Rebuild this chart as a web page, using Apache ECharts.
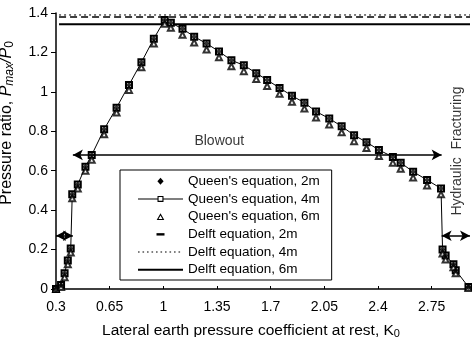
<!DOCTYPE html>
<html>
<head>
<meta charset="utf-8">
<script src="https://cdn.jsdelivr.net/npm/echarts@6/dist/echarts.min.js"></script>
<style>
html,body{margin:0;padding:0;background:#fff;}
#c{width:472px;height:337px;}
</style>
</head>
<body>
<div id="c"></div>
<script>
// ---- data ----
var kValues = [0.3, 0.333, 0.356, 0.377, 0.396, 0.406, 0.442, 0.492, 0.533, 0.614, 0.695, 0.776, 0.857, 0.938, 1.009, 1.049, 1.125, 1.201, 1.282, 1.363, 1.444, 1.525, 1.606, 1.677, 1.758, 1.839, 1.92, 1.996, 2.082, 2.163, 2.244, 2.325, 2.406, 2.497, 2.548, 2.629, 2.72, 2.811, 2.821, 2.841, 2.892, 2.907, 2.99];
var queen2m = [0, 0.02, 0.08, 0.145, 0.205, 0.48, 0.53, 0.62, 0.68, 0.81, 0.92, 1.035, 1.15, 1.27, 1.365, 1.35, 1.32, 1.28, 1.245, 1.205, 1.16, 1.135, 1.095, 1.06, 1.02, 0.98, 0.945, 0.9, 0.865, 0.825, 0.78, 0.745, 0.705, 0.67, 0.64, 0.595, 0.553, 0.51, 0.2, 0.17, 0.125, 0.095, 0.01];
var queen4m = [0, 0.02, 0.08, 0.145, 0.205, 0.48, 0.53, 0.62, 0.68, 0.81, 0.92, 1.035, 1.15, 1.27, 1.365, 1.35, 1.32, 1.28, 1.245, 1.205, 1.16, 1.135, 1.095, 1.06, 1.02, 0.98, 0.945, 0.9, 0.865, 0.825, 0.78, 0.745, 0.705, 0.67, 0.64, 0.595, 0.553, 0.51, 0.2, 0.17, 0.125, 0.095, 0.01];
var queen6m = [0, 0.01, 0.06, 0.125, 0.185, 0.46, 0.51, 0.6, 0.655, 0.785, 0.895, 1.01, 1.125, 1.245, 1.345, 1.325, 1.29, 1.25, 1.215, 1.175, 1.13, 1.105, 1.065, 1.03, 0.99, 0.95, 0.915, 0.87, 0.835, 0.795, 0.75, 0.715, 0.675, 0.64, 0.61, 0.565, 0.525, 0.48, 0.18, 0.15, 0.11, 0.08, 0.005];
var delftK = [0.32, 3.0];
var delft2m = [1.38, 1.38];
var delft4m = [1.39, 1.39];
var delft6m = [1.343, 1.343];
var seriesNames = ["Queen's equation, 2m", "Queen's equation, 4m", "Queen's equation, 6m", "Delft equation, 2m", "Delft equation, 4m", "Delft equation, 6m"];
// region boundaries and annotation arrows
var boundaryK = [0.41, 2.815];
var boundaryTop = 1.43;
var blowoutArrow = [[0.41, 0.68], [2.815, 0.68]];
var leftArrow = [[0.3, 0.27], [0.41, 0.27]];
var rightArrow = [[2.815, 0.27], [3.0, 0.27]];
var annotations = [
  {text: 'Blowout', k: 1.365, p: 0.75, rotate: 0},
  {text: 'Hydraulic  Fracturing', k: 2.915, p: 0.70, rotate: 90}
];
var xMin = 0.3, xMax = 3.0, xStep = 0.35;
var yMin = 0, yMax = 1.4, yStep = 0.2;

function pairs(xs, ys){ return xs.map(function(x,i){ return [x, ys[i]]; }); }

// legend icon shapes (drawn in a 45x8 box)
var BOX = 'path://M0,0M45,8';
var iconDiamond = BOX + 'M22.5,0.6L25.6,4L22.5,7.4L19.4,4Z';
var iconSquare = BOX + 'M0,3.5h19.5v1h-19.5z M25.5,3.5h19.5v1h-19.5z M19.5,1h6v6h-6z M20.6,2.1v3.8h3.8v-3.8z';
var iconTriangle = BOX + 'M22.5,0.6L26.3,7.4L18.7,7.4Z M22.5,2.9L20.5,6.4L24.5,6.4Z';
var iconDash = BOX + 'M18.5,2.8h8v2.4h-8z';
var iconDots = (function(){ var s = BOX; for (var x = 0; x < 45; x += 4.5) s += 'M' + x + ',3.5h1.6v1h-1.6z'; return s; })();
var iconSolid = BOX + 'M0,3h45v2h-45z';

var chart = echarts.init(document.getElementById('c'), null, {renderer:'canvas'});
var FONT = 'Liberation Sans, Arial, sans-serif';
var blk = {color: '#000', opacity: 1, borderWidth: 0};
var option = {
  animation: false,
  backgroundColor: '#fff',
  textStyle: {fontFamily: FONT, color: '#000'},
  grid: {left: 56, right: 2, top: 13, bottom: 48, containLabel: false, outerBoundsMode: 'none'},
  legend: {
    orient: 'vertical', left: 120, top: 170,
    padding: [4, 12, 3, 18],
    itemWidth: 45, itemHeight: 8, itemGap: 3.2,
    borderColor: '#000', borderWidth: 1, backgroundColor: '#fff',
    textStyle: {fontFamily: FONT, fontSize: 13.5, color: '#000', lineHeight: 14.5},
    data: [
      {name: seriesNames[0], icon: iconDiamond, itemStyle: blk},
      {name: seriesNames[1], icon: iconSquare, itemStyle: blk},
      {name: seriesNames[2], icon: iconTriangle, itemStyle: blk},
      {name: seriesNames[3], icon: iconDash, itemStyle: blk},
      {name: seriesNames[4], icon: iconDots, itemStyle: blk},
      {name: seriesNames[5], icon: iconSolid, itemStyle: blk}
    ]
  },
  xAxis: {
    type: 'value', min: xMin, max: xMax, interval: xStep,
    name: 'Lateral earth pressure coefficient at rest, K{s|0}',
    nameLocation: 'middle', nameGap: 33,
    nameTextStyle: {fontFamily: FONT, fontSize: 15.5, color: '#000', padding: [0, 24, 0, 0],
      rich: {s: {fontSize: 11, fontFamily: FONT, verticalAlign: 'bottom', padding: [6, 0, 0, 0]}}},
    axisLine: {show: true, lineStyle: {color: '#000', width: 1.5}},
    axisTick: {show: true, inside: true, length: 3, lineStyle: {color: '#000'}},
    axisLabel: {fontFamily: FONT, fontSize: 14, color: '#000', margin: 11, showMaxLabel: false, hideOverlap: false},
    splitLine: {show: false}
  },
  yAxis: {
    type: 'value', min: yMin, max: yMax, interval: yStep,
    name: 'Pressure ratio, {i|P}{si|max}{i|/P}{s|0}',
    nameLocation: 'middle', nameGap: 40,
    nameTextStyle: {fontFamily: FONT, fontSize: 16, color: '#000', padding: [0, 0, 0, 56],
      rich: {
        i: {fontSize: 16, fontStyle: 'italic', fontFamily: FONT},
        si: {fontSize: 12, fontStyle: 'italic', fontFamily: FONT, padding: [6, 0, 0, 0]},
        s: {fontSize: 12, fontFamily: FONT, padding: [6, 0, 0, 0]}
      }},
    axisLine: {show: true, lineStyle: {color: '#000', width: 1.5}},
    axisTick: {show: true, inside: false, length: 5, lineStyle: {color: '#000'}},
    axisLabel: {fontFamily: FONT, fontSize: 14, color: '#000', margin: 8},
    splitLine: {show: false}
  },
  series: [
    {
      name: seriesNames[3], type: 'line', data: pairs(delftK, delft2m), symbol: 'none', z: 3,
      color: '#000', lineStyle: {color: '#000', width: 1.6, type: [7, 4]}
    },
    {
      name: seriesNames[4], type: 'line', data: pairs(delftK, delft4m), symbol: 'none', z: 3,
      color: '#000', lineStyle: {color: '#000', width: 1, type: [2, 3]}
    },
    {
      name: seriesNames[5], type: 'line', data: pairs(delftK, delft6m), symbol: 'none', z: 3,
      color: '#000', lineStyle: {color: '#000', width: 2}
    },
    {
      name: seriesNames[1], type: 'line', data: pairs(kValues, queen4m), z: 4,
      symbol: 'emptyRect', symbolSize: 6, showAllSymbol: true,
      color: '#000', itemStyle: {color: '#000', borderWidth: 1.2},
      lineStyle: {color: '#000', width: 1}
    },
    {
      name: seriesNames[2], type: 'scatter', data: pairs(kValues, queen6m), z: 5,
      symbol: 'emptyTriangle', symbolSize: 6,
      color: '#000', itemStyle: {color: '#000', borderWidth: 1.2}
    },
    {
      name: seriesNames[0], type: 'scatter', data: pairs(kValues, queen2m), z: 6,
      symbol: 'diamond', symbolSize: 6,
      color: '#000', itemStyle: {color: '#000'}
    },
    {
      name: 'annot', type: 'scatter', z: 7, silent: true,
      symbolSize: 0,
      data: annotations.map(function(a){
        return {value: [a.k, a.p], label: {show: true, formatter: a.text, rotate: a.rotate, position: 'inside',
          fontFamily: FONT, fontSize: 14, color: '#000'}};
      }),
      markLine: {
        silent: true, animation: false,
        symbol: ['arrow', 'arrow'], symbolSize: [8, 10],
        label: {show: false},
        lineStyle: {color: '#000', width: 1.5, type: 'solid'},
        emphasis: {disabled: true},
        data: [
          [{coord: blowoutArrow[0]}, {coord: blowoutArrow[1]}],
          [{coord: leftArrow[0]}, {coord: leftArrow[1]}],
          [{coord: rightArrow[0]}, {coord: rightArrow[1]}]
        ]
      }
    },
    {
      name: 'bounds', type: 'scatter', z: 2, silent: true, data: [], clip: false,
      markLine: {
        silent: true, animation: false,
        symbol: ['none', 'none'],
        label: {show: false},
        lineStyle: {color: '#000', width: 1.2, type: 'solid'},
        emphasis: {disabled: true},
        data: boundaryK.map(function(k){ return [{coord: [k, yMin]}, {coord: [k, boundaryTop]}]; })
      }
    }
  ]
};
chart.setOption(option);
</script>
</body>
</html>
